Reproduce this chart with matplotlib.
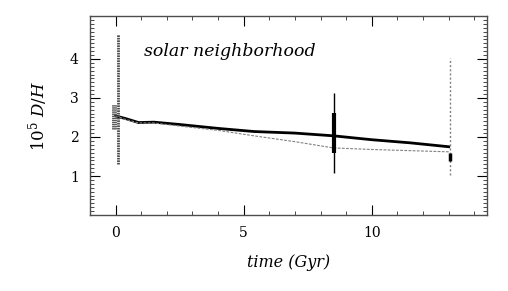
import numpy as np
import matplotlib as mpl
import matplotlib.pyplot as plt
from matplotlib.ticker import MultipleLocator

mpl.rcParams['font.family'] = 'DejaVu Serif'
mpl.rcParams['mathtext.fontset'] = 'dejavuserif'
mpl.rcParams['font.size'] = 10
mpl.rcParams['lines.scale_dashes'] = False

#-- model curves
t_solid = [0.0, 0.4, 0.9, 1.5, 2.5, 4.0, 5.4, 7.0, 8.5, 10.0, 11.5, 13.0]
dh_solid = [2.54, 2.47, 2.37, 2.38, 2.32, 2.22, 2.14, 2.10, 2.03, 1.93, 1.85, 1.75]
t_dot = [0.0, 0.4, 0.9, 1.5, 2.5, 4.0, 5.4, 7.0, 8.5, 10.0, 11.5, 13.0]
dh_dot = [2.54, 2.45, 2.36, 2.36, 2.28, 2.17, 2.03, 1.88, 1.72, 1.68, 1.65, 1.62]

#-- observational ranges
obs_t = [0.09, 8.53, 13.05]
obs_lo = [1.30, 1.08, 1.03]
obs_hi = [4.65, 3.12, 4.03]
box_t = [-0.07, 8.53, 13.05]
box_lo = [2.20, 1.60, 1.38]
box_hi = [2.84, 2.62, 1.60]

fig = plt.figure(figsize=(5.08, 2.91), dpi=100)
ax = fig.add_axes([0.177, 0.261, 0.782, 0.684])

ax.plot(t_solid, dh_solid, color='black', lw=2.0)
ax.plot(t_dot, dh_dot, color='0.5', lw=0.8, linestyle=(0, (2, 1)))

#-- error bars
ax.vlines(obs_t[0], obs_lo[0], obs_hi[0], color='0.3', lw=2.0, linestyles=(0, (1.2, 0.6)))
ax.vlines(obs_t[1], obs_lo[1], obs_hi[1], color='black', lw=1.0)
ax.vlines(obs_t[2], obs_lo[2], obs_hi[2], color='0.5', lw=1.0, linestyles=(0, (1.5, 1.5)))
ax.vlines(box_t[0], box_lo[0], box_hi[0], color='0.35', lw=3.5, linestyles=(0, (1.0, 0.5)))
ax.vlines(box_t[1], box_lo[1], box_hi[1], color='black', lw=3.0)
ax.vlines(box_t[2], box_lo[2], box_hi[2], color='black', lw=2.5)

ax.set_xlim(-1, 14.5)
ax.set_ylim(0, 5.1)
ax.xaxis.set_major_locator(MultipleLocator(5))
ax.xaxis.set_minor_locator(MultipleLocator(1))
ax.yaxis.set_major_locator(MultipleLocator(1))
ax.yaxis.set_minor_locator(MultipleLocator(0.1))
ax.set_yticks([1, 2, 3, 4])
ax.tick_params(which='both', direction='in', top=True, right=True)
ax.tick_params(which='major', length=7, width=0.8, labelsize=10, pad=8)
ax.tick_params(which='minor', length=3, width=0.5)
for s in ax.spines.values():
    s.set_linewidth(1.0)
    s.set_color('0.3')

ax.text(1.1, 4.2, 'solar neighborhood', style='italic', fontsize=12.5, va='center')
ax.set_xlabel('time (Gyr)', style='italic', fontsize=11.5, labelpad=10)
ax.set_ylabel(r'$10^5\ D/H$', fontsize=12, labelpad=14)

fig.savefig('out.png', dpi=100)
